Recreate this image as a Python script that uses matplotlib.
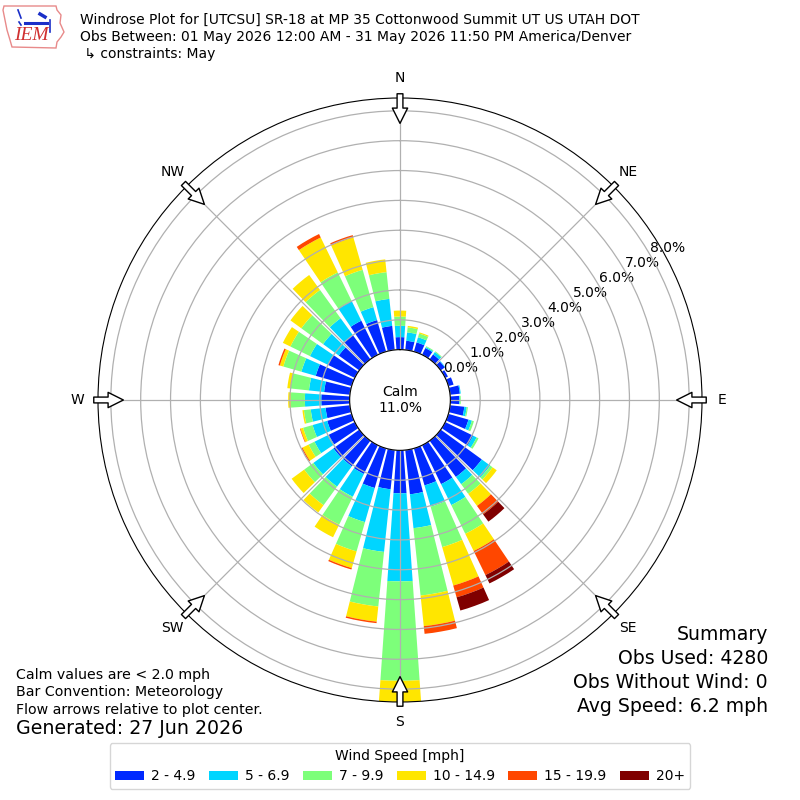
import numpy as np
import matplotlib
matplotlib.use("Agg")
import matplotlib.pyplot as plt
from matplotlib.patches import Patch, Polygon
from matplotlib.lines import Line2D

# ---------------- data ----------------
directions = np.arange(0, 360, 10)  # degrees, wind "from"
speed_labels = ["2 - 4.9", "5 - 6.9", "7 - 9.9", "10 - 14.9", "15 - 19.9", "20+"]
compass_labels = ["N", "NE", "E", "SE", "S", "SW", "W", "NW"]

# percent of observations per direction bin, per speed bin
spd_2_5 = [0.42, 0.31, 0.32, 0.25, 0.20, 0.17, 0.10, 0.18, 0.33, 0.30, 0.48, 0.70,
           1.04, 1.70, 1.50, 1.45, 1.29, 1.49, 1.44, 1.32, 1.38, 1.07, 1.06, 1.07,
           0.97, 0.85, 0.82, 0.95, 0.87, 1.25, 1.00, 0.85, 1.00, 1.27, 1.10, 0.81]
spd_5_7 = [0.38, 0.28, 0.18, 0.04, 0.10, 0.02, 0.00, 0.00, 0.03, 0.02, 0.08, 0.12,
           0.13, 0.35, 0.30, 0.78, 0.74, 1.14, 2.95, 2.11, 1.19, 0.85, 0.84, 0.83,
           0.53, 0.51, 0.50, 0.55, 0.51, 0.50, 0.67, 0.65, 0.70, 0.73, 0.45, 0.91]
spd_7_10 = [0.31, 0.17, 0.13, 0.03, 0.03, 0.00, 0.00, 0.00, 0.00, 0.03, 0.04, 0.07,
            0.07, 0.10, 0.40, 1.07, 1.41, 2.27, 3.33, 1.84, 1.02, 1.04, 0.77, 0.38,
            0.22, 0.33, 0.23, 0.47, 0.62, 0.63, 0.73, 0.90, 1.17, 1.07, 1.30, 0.90]
spd_10_15 = [0.20, 0.05, 0.04, 0.00, 0.00, 0.00, 0.00, 0.00, 0.00, 0.00, 0.00, 0.00,
             0.00, 0.17, 0.50, 0.64, 1.34, 1.03, 0.71, 0.51, 0.58, 0.47, 0.30, 0.52,
             0.23, 0.09, 0.05, 0.09, 0.11, 0.12, 0.28, 0.45, 0.62, 1.30, 1.13, 0.43]
spd_15_20 = [0.00, 0.00, 0.00, 0.00, 0.00, 0.00, 0.00, 0.00, 0.00, 0.00, 0.00, 0.00,
             0.00, 0.00, 0.35, 0.90, 0.41, 0.26, 0.00, 0.05, 0.05, 0.00, 0.00, 0.00,
             0.04, 0.02, 0.00, 0.00, 0.00, 0.05, 0.00, 0.00, 0.00, 0.13, 0.08, 0.00]
spd_20p = [0.00, 0.00, 0.00, 0.00, 0.00, 0.00, 0.00, 0.00, 0.00, 0.00, 0.00, 0.00,
           0.00, 0.00, 0.30, 0.31, 0.46, 0.00, 0.00, 0.00, 0.00, 0.00, 0.00, 0.00,
           0.00, 0.00, 0.00, 0.00, 0.00, 0.00, 0.00, 0.00, 0.00, 0.00, 0.00, 0.00]
calm_pct = 11.0
obs_used = 4280
obs_without_wind = 0
avg_speed = 6.2

series = [spd_2_5, spd_5_7, spd_7_10, spd_10_15, spd_15_20, spd_20p]
cmap = plt.get_cmap("jet")
colors = [cmap(v) for v in np.linspace(0, 1, 7)[1:]]

# ---------------- figure ----------------
fig = plt.figure(figsize=(8, 8), dpi=100)


def px(x, y):
    return x / 800.0, 1 - y / 800.0


ax = fig.add_axes([0.1225, 0.1225, 0.755, 0.755], projection="polar")
ax.set_theta_zero_location("N")
ax.set_theta_direction(-1)

theta = np.deg2rad(directions)
width = np.deg2rad(8)
bottom = np.zeros(len(directions))
for vals, col in zip(series, colors):
    vals = np.asarray(vals)
    ax.bar(theta, vals, width=width, bottom=bottom, color=col, linewidth=0, zorder=1)
    bottom = bottom + vals

rmax = bottom.max()
ax.set_ylim(0, rmax)
ax.set_rorigin(-0.2 * rmax)
rt = np.arange(0, int(np.floor(rmax)) + 1)
ax.set_yticks(rt)
ax.set_yticklabels([f"{v:.1f}%" for v in rt], fontsize=10)
ax.set_rlabel_position(60)
ax.set_xticks(np.deg2rad(np.arange(0, 360, 45)))
ax.set_xticklabels(compass_labels, fontsize=10)
ax.tick_params(axis="x", pad=4)
ax.grid(True, color="#b0b0b0", lw=0.9)

ax.text(0.5, 0.5, f"Calm\n{calm_pct:.1f}%", transform=ax.transAxes,
        ha="center", va="center", fontsize=10, zorder=6)

# flow arrows at compass points, pointing to center
for ang in np.deg2rad(np.arange(0, 360, 45)):
    f_tail, f_tip = 0.507, 0.458
    xs, ys = 0.5 + f_tail * np.sin(ang), 0.5 + f_tail * np.cos(ang)
    xt, yt = 0.5 + f_tip * np.sin(ang), 0.5 + f_tip * np.cos(ang)
    ax.annotate("", xy=(xt, yt), xytext=(xs, ys), xycoords="axes fraction",
                textcoords="axes fraction", annotation_clip=False, zorder=7,
                arrowprops=dict(arrowstyle="simple,head_length=1.1,head_width=1.1,tail_width=0.42",
                                fc="white", ec="black", lw=1, shrinkA=0, shrinkB=0,
                                mutation_scale=10))

# ---------------- header ----------------
fig.text(*px(80, 20), "Windrose Plot for [UTCSU] SR-18 at MP 35 Cottonwood Summit UT US UTAH DOT",
         fontsize=10, va="center", ha="left")
fig.text(*px(80, 37), "Obs Between: 01 May 2026 12:00 AM - 31 May 2026 11:50 PM America/Denver",
         fontsize=10, va="center", ha="left")
fig.text(*px(80, 54), " \u21b3 constraints: May", fontsize=10, va="center", ha="left")

# simple logo
iowa = [(4, 6), (56, 6), (57, 10), (61, 15), (60, 23), (64, 32), (61, 37), (57, 42), (56, 48),
        (12, 47), (10, 40), (7, 30), (5, 20), (3, 10)]
fig.patches.append(Polygon([px(x, y) for x, y in iowa], closed=True, fill=False,
                           ec="#e88a8a", lw=1, transform=fig.transFigure))
for seg, lw in [([(18, 10), (21, 18)], 1.2), ([(25, 23), (47, 23)], 2.2),
                ([(40, 14), (45, 17)], 2.5), ([(50, 20), (50, 32)], 1.2),
                ([(19, 22), (21, 25)], 1.2)]:
    fig.lines.append(Line2D([px(*p)[0] for p in seg], [px(*p)[1] for p in seg],
                            color="#1a2fc8", lw=lw, transform=fig.transFigure))
fig.text(*px(31, 36), "IEM", color="#d03030", fontsize=14, style="italic",
         family="Liberation Serif", ha="center", va="center")

# ---------------- footer ----------------
fig.text(*px(768, 635), "Summary", fontsize=13.6, ha="right", va="center")
fig.text(*px(768, 659), f"Obs Used: {obs_used}", fontsize=13.6, ha="right", va="center")
fig.text(*px(768, 683), f"Obs Without Wind: {obs_without_wind}", fontsize=13.6, ha="right", va="center")
fig.text(*px(768, 706), f"Avg Speed: {avg_speed} mph", fontsize=13.6, ha="right", va="center")

fig.text(*px(16, 675), "Calm values are < 2.0 mph", fontsize=10.2, ha="left", va="center")
fig.text(*px(16, 692), "Bar Convention: Meteorology", fontsize=10.2, ha="left", va="center")
fig.text(*px(16, 710), "Flow arrows relative to plot center.", fontsize=10.2, ha="left", va="center")
fig.text(*px(16, 729), "Generated: 27 Jun 2026", fontsize=13.7, ha="left", va="center")

handles = [Patch(facecolor=c, edgecolor="none") for c in colors]
fig.legend(handles, speed_labels, loc="center", bbox_to_anchor=px(400, 766), ncol=6,
           title="Wind Speed [mph]", fontsize=10, title_fontsize=10,
           handlelength=2.1, handleheight=0.7, handletextpad=0.5, columnspacing=0.95,
           frameon=True)

fig.savefig("out.png", dpi=100)
